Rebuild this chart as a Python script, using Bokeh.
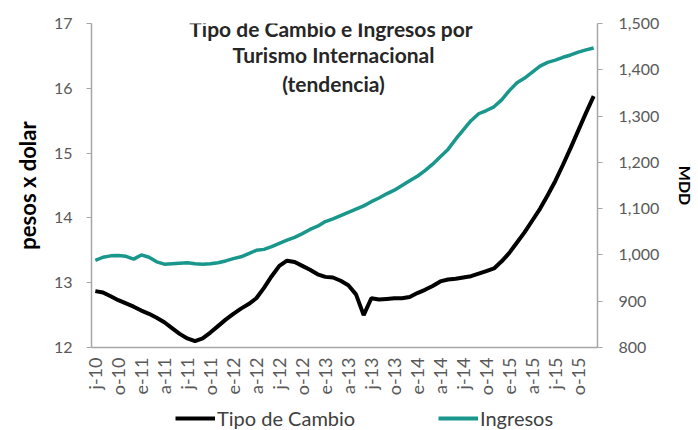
from bokeh.plotting import figure
from bokeh.layouts import column
from bokeh.models import (Range1d, LinearAxis, FixedTicker, NumeralTickFormatter,
                          Label, Legend, LegendItem)
from bokeh.embed import file_html
from bokeh.resources import INLINE

# ---- data (monthly, jul-2010 .. dic-2015) ----
tick_labels = ["j-10", "o-10", "e-11", "a-11", "j-11", "o-11", "e-12", "a-12",
               "j-12", "o-12", "e-13", "a-13", "j-13", "o-13", "e-14", "a-14",
               "j-14", "o-14", "e-15", "a-15", "j-15", "o-15"]

tipo_cambio = [12.87, 12.85, 12.79, 12.73, 12.68, 12.63, 12.57, 12.52, 12.46, 12.39,
               12.30, 12.21, 12.14, 12.10, 12.14, 12.23, 12.33, 12.43, 12.52, 12.60,
               12.67, 12.76, 12.92, 13.10, 13.26, 13.34, 13.32, 13.26, 13.20, 13.13,
               13.09, 13.08, 13.03, 12.96, 12.82, 12.50, 12.76, 12.74, 12.75, 12.76,
               12.76, 12.78, 12.84, 12.89, 12.95, 13.02, 13.05, 13.06, 13.08, 13.10,
               13.14, 13.18, 13.22, 13.33, 13.46, 13.62, 13.78, 13.96, 14.14, 14.35,
               14.57, 14.82, 15.08, 15.35, 15.62, 15.88]

ingresos = [988, 995, 998, 999, 997, 991, 1000, 995, 985, 980,
            981, 982, 983, 981, 980, 981, 983, 987, 992, 996,
            1003, 1010, 1012, 1018, 1025, 1032, 1038, 1046, 1055, 1062,
            1072, 1078, 1085, 1092, 1099, 1106, 1115, 1123, 1132, 1140,
            1150, 1160, 1170, 1182, 1196, 1212, 1228, 1250, 1270, 1290,
            1305, 1312, 1320, 1335, 1355, 1372, 1382, 1395, 1408, 1416,
            1421, 1427, 1432, 1438, 1443, 1447]

left_ticks = [12, 13, 14, 15, 16, 17]
right_ticks = [800, 900, 1000, 1100, 1200, 1300, 1400, 1500]

months = list(range(len(tipo_cambio)))
tick_pos = months[::3]

FONT = "Lato"
GRAY = "#595959"
AXIS = "#A6A6A6"
TEAL = "#1A978C"

p = figure(width=698, height=398, output_backend="svg", toolbar_location=None,
           x_range=Range1d(-0.5, len(months) - 0.5), y_range=Range1d(12, 17),
           min_border_left=91, min_border_right=101, min_border_top=23,
           min_border_bottom=48)
p.outline_line_color = None
p.xgrid.visible = False
p.ygrid.visible = False
p.background_fill_color = "white"

p.extra_y_ranges = {"mdd": Range1d(800, 1500)}

p.line(months, tipo_cambio, line_color="black", line_width=4)
p.line(months, ingresos, line_color=TEAL, line_width=3.5, y_range_name="mdd")

# x axis
xa = p.xaxis[0]
xa.ticker = FixedTicker(ticks=tick_pos)
xa.major_label_overrides = {t: lab for t, lab in zip(tick_pos, tick_labels)}
xa.major_label_orientation = 1.5708
xa.major_tick_out = 0
xa.major_tick_in = 0
xa.minor_tick_out = 0
xa.minor_tick_in = 0
xa.major_label_standoff = 10
xa.major_label_text_font = FONT
xa.major_label_text_font_size = "18px"
xa.major_label_text_color = GRAY
xa.axis_line_color = AXIS
xa.axis_line_width = 1.5

# left axis
ya = p.yaxis[0]
ya.ticker = FixedTicker(ticks=left_ticks)
ya.major_tick_out = 5
ya.major_tick_in = 0
ya.minor_tick_out = 0
ya.minor_tick_in = 0
ya.major_tick_line_color = AXIS
ya.axis_line_color = AXIS
ya.axis_line_width = 1.5
ya.major_label_standoff = 14
ya.major_label_text_font = FONT
ya.major_label_text_font_size = "16px"
ya.major_label_text_color = GRAY
ya.axis_label = "pesos x dolar"
ya.axis_label_text_font = FONT
ya.axis_label_text_font_style = "bold"
ya.axis_label_text_font_size = "22px"
ya.axis_label_text_color = "black"
ya.axis_label_standoff = 10

# right axis
ra = LinearAxis(y_range_name="mdd", ticker=FixedTicker(ticks=right_ticks),
                formatter=NumeralTickFormatter(format="0,0"))
ra.major_tick_out = 5
ra.major_tick_in = 0
ra.minor_tick_out = 0
ra.minor_tick_in = 0
ra.major_tick_line_color = AXIS
ra.axis_line_color = AXIS
ra.axis_line_width = 1.5
ra.major_label_standoff = 16
ra.major_label_text_font = FONT
ra.major_label_text_font_size = "16px"
ra.major_label_text_color = GRAY
ra.axis_label = "MDD"
ra.axis_label_text_font = FONT
ra.axis_label_text_font_style = "bold"
ra.axis_label_text_font_size = "16px"
ra.axis_label_text_color = "black"
ra.axis_label_standoff = 14
p.add_layout(ra, "right")

# title (three centred lines)
title_lines = ["Tipo de Cambio  e Ingresos por", "Turismo Internacional", "(tendencia)"]
title_y = [319, 293, 264]
for line, ty in zip(title_lines, title_y):
    p.add_layout(Label(x=242, y=ty, x_units="screen", y_units="screen",
                       text=line, text_align="center", text_baseline="alphabetic",
                       text_font=FONT, text_font_style="bold", text_font_size="21px",
                       text_color="#262626"))

# legend strip below the chart (its lines lie outside its own view)
lg = figure(width=698, height=32, output_backend="svg", toolbar_location=None,
            x_axis_type=None, y_axis_type=None,
            x_range=Range1d(0, 1), y_range=Range1d(0, 1),
            min_border_left=0, min_border_right=0, min_border_top=0,
            min_border_bottom=0)
lg.outline_line_color = None
lg.xgrid.visible = False
lg.ygrid.visible = False
l1 = lg.line(months, tipo_cambio, line_color="black", line_width=4)
l2 = lg.line(months, ingresos, line_color=TEAL, line_width=4)
leg = Legend(items=[LegendItem(label="Tipo de Cambio", renderers=[l1]),
                    LegendItem(label="Ingresos", renderers=[l2])],
             location=(84, 0), orientation="horizontal",
             border_line_color=None, background_fill_alpha=0,
             padding=0, margin=0, glyph_width=40, glyph_height=20,
             label_standoff=2, label_width=150, spacing=71,
             label_text_font=FONT, label_text_font_size="20px",
             label_text_color="#404040")
lg.add_layout(leg)

open("out.html", "w").write(file_html(column(p, lg, spacing=0), INLINE))
